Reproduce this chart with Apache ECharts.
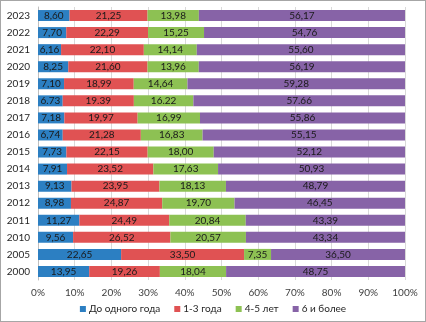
<!DOCTYPE html>
<html>
<head>
<meta charset="utf-8">
<script src="https://cdn.jsdelivr.net/npm/echarts@6/dist/echarts.min.js"></script>
<style>
  html, body { margin: 0; padding: 0; background: #fff; }
  #chart { width: 424px; height: 320px; border: 1px solid #a6a6a6; }
</style>
</head>
<body>
<div id="chart"></div>
<script>
// Years from bottom to top of the category axis
const years = ['2000', '2005', '2010', '2011', '2012', '2013', '2014', '2015',
               '2016', '2017', '2018', '2019', '2020', '2021', '2022', '2023'];

// Shares by length of service, %
const upToOneYear = [13.95, 22.65, 9.56, 11.27, 8.98, 9.13, 7.91, 7.73,
                     6.74, 7.18, 6.73, 7.10, 8.25, 6.16, 7.70, 8.60];
const oneToThree  = [19.26, 33.50, 26.52, 24.49, 24.87, 23.95, 23.52, 22.15,
                     21.28, 19.97, 19.39, 18.99, 21.60, 22.10, 22.29, 21.25];
const fourToFive  = [18.04, 7.35, 20.57, 20.84, 19.70, 18.13, 17.63, 18.00,
                     16.83, 16.99, 16.22, 14.64, 13.96, 14.14, 15.25, 13.98];
const sixAndMore  = [48.75, 36.50, 43.34, 43.39, 46.45, 48.79, 50.93, 52.12,
                     55.15, 55.86, 57.66, 59.28, 56.19, 55.60, 54.76, 56.17];

// Decimal mark used in each year's labels
const decimalMarks = [',', ',', ',', ',', ',', ',', ',', ',',
                      ',', ',', '.', ',', ',', ',', ',', ','];

const seriesNames = ['До одного года', '1-3 года', '4-5 лет', '6 и более'];
const xTicks = ['0%', '10%', '20%', '30%', '40%', '50%', '60%', '70%', '80%', '90%', '100%'];

const colors = ['#2C7FC2', '#E05253', '#8DC153', '#8763A7'];
const FONT = 'Lato, "Liberation Sans", sans-serif';

const allSeries = [upToOneYear, oneToThree, fourToFive, sixAndMore];
// Row totals: each bar is shown as a share of 100%
const totals = years.map((_, i) => allSeries.reduce((s, arr) => s + arr[i], 0));

const chart = echarts.init(document.getElementById('chart'), null, { renderer: 'canvas' });

function makeSeries(name, values, color) {
  return {
    name: name,
    type: 'bar',
    stack: 'total',
    data: values.map((v, i) => ({ value: v / totals[i] * 100, raw: v })),
    barWidth: 11,
    itemStyle: { color: color },
    label: {
      show: true,
      position: 'inside',
      color: '#1a1a1a',
      fontFamily: FONT,
      fontSize: 10,
      formatter: p => p.data.raw.toFixed(2).replace('.', decimalMarks[p.dataIndex])
    }
  };
}

chart.setOption({
  animation: false,
  color: colors,
  grid: { left: 37, right: 20, top: 6, bottom: 41, containLabel: false },
  xAxis: {
    type: 'value',
    min: 0,
    max: 100,
    interval: 10,
    axisLine: { show: false },
    axisTick: { show: false },
    splitLine: { show: true, lineStyle: { color: '#d9d9d9', width: 1 } },
    axisLabel: {
      color: '#404040',
      fontFamily: FONT,
      fontSize: 10,
      margin: 8,
      formatter: (v) => xTicks[Math.round(v / 10)]
    }
  },
  yAxis: {
    type: 'category',
    data: years,
    offset: 3,
    axisLine: { show: true, lineStyle: { color: '#bfbfbf' } },
    axisTick: { show: false },
    axisLabel: { color: '#262626', fontFamily: FONT, fontSize: 10, margin: 5 }
  },
  legend: {
    bottom: 2,
    left: 'center',
    itemWidth: 6,
    itemHeight: 6,
    itemGap: 14,
    icon: 'rect',
    textStyle: { color: '#262626', fontFamily: FONT, fontSize: 10, padding: [0, 0, 0, -2] },
    data: seriesNames
  },
  series: [
    makeSeries(seriesNames[0], upToOneYear, colors[0]),
    makeSeries(seriesNames[1], oneToThree, colors[1]),
    makeSeries(seriesNames[2], fourToFive, colors[2]),
    makeSeries(seriesNames[3], sixAndMore, colors[3])
  ]
});
</script>
</body>
</html>
